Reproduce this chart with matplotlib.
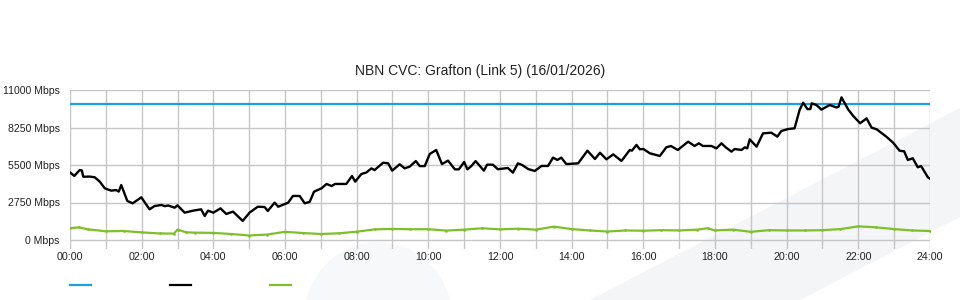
import matplotlib
matplotlib.use("Agg")
import matplotlib.pyplot as plt
from matplotlib.patches import Polygon, Ellipse
from matplotlib.lines import Line2D
from matplotlib.ticker import MultipleLocator, FuncFormatter

plt.rcParams['font.family'] = ['Liberation Sans', 'DejaVu Sans']

title = "NBN CVC: Grafton (Link 5) (16/01/2026)"

# Capacity line (Mbps)
cap_hours = [0, 24]
cap_values = [10000, 10000]

# Traffic (black) - hours, Mbps
traffic_hours = [0.0, 0.12, 0.27, 0.33, 0.37, 0.55, 0.69, 0.83, 0.97, 1.15, 1.29, 1.36, 1.43, 1.60, 1.75, 1.99,
                 2.22, 2.36, 2.55, 2.65, 2.74, 2.92, 3.00, 3.20, 3.43, 3.66, 3.76, 3.85, 4.00, 4.20, 4.36, 4.55,
                 4.70, 4.82, 5.01, 5.24, 5.43, 5.52, 5.71, 5.81, 6.09, 6.22, 6.41, 6.55, 6.69, 6.81, 7.02, 7.16,
                 7.30, 7.40, 7.71, 7.87, 7.96, 8.13, 8.27, 8.41, 8.50, 8.74, 8.88, 8.99, 9.20, 9.34, 9.48, 9.65,
                 9.76, 9.90, 10.04, 10.22, 10.38, 10.55, 10.74, 10.85, 11.00, 11.09, 11.20, 11.32, 11.55, 11.64,
                 11.80, 11.94, 12.22, 12.36, 12.50, 12.62, 12.78, 12.97, 13.16, 13.34, 13.48, 13.60, 13.71, 13.85,
                 14.18, 14.44, 14.65, 14.79, 14.97, 15.16, 15.39, 15.62, 15.68, 15.81, 15.90, 16.00, 16.18, 16.46,
                 16.64, 16.77, 16.96, 17.25, 17.43, 17.55, 17.66, 17.90, 18.04, 18.18, 18.30, 18.46, 18.55, 18.74,
                 18.83, 18.90, 18.97, 19.16, 19.34, 19.57, 19.74, 19.85, 20.04, 20.22, 20.36, 20.46, 20.58, 20.66,
                 20.70, 20.83, 20.97, 21.20, 21.39, 21.45, 21.53, 21.72, 21.86, 22.05, 22.23, 22.37, 22.51, 22.78,
                 22.97, 23.15, 23.28, 23.38, 23.52, 23.66, 23.75, 23.94, 24.00]
traffic_values = [4950, 4700, 5130, 5100, 4640, 4650, 4600, 4280, 3790, 3620, 3660, 3550, 4030, 2860, 2690, 3130,
                  2250, 2490, 2570, 2480, 2530, 2370, 2540, 2005, 2150, 2250, 1760, 2150, 2005, 2320, 1910, 2080,
                  1700, 1400, 2005, 2440, 2420, 2130, 2740, 2440, 2740, 3230, 3230, 2690, 2800, 3545, 3790, 4110,
                  3960, 4110, 4110, 4690, 4280, 4840, 4950, 5250, 5130, 5670, 5620, 5085, 5550, 5255, 5380, 5790,
                  5420, 5420, 6310, 6600, 5570, 5820, 5180, 5180, 5720, 5180, 5420, 5790, 5085, 5525,
                  5525, 5190, 5280, 4940, 5620, 5500, 5210, 5060, 5430, 5430, 6040, 5870, 6040, 5570,
                  5620, 6550, 5940, 6400, 5915, 6280, 5795, 6600, 6550, 6970, 6650, 6675, 6360, 6160,
                  6795, 6895, 6600, 7210, 6895, 7090, 6895, 6895, 6720, 7090, 6795, 6480, 6675, 6600,
                  6795, 6720, 7380, 6845, 7820, 7870, 7580, 7990, 8140, 8190, 9530, 10070, 9600, 9600,
                  10020, 9900, 9560, 9900, 9720, 9780, 10460, 9560, 9090, 8560, 8920, 8240, 8120, 7580,
                  7140, 6550, 6500, 5870, 5990, 5330, 5430, 4600, 4500]

# Green series - hours, Mbps
green_hours = [0.0, 0.25, 0.5, 1.0, 1.5, 2.0, 2.5, 2.9, 3.0, 3.25, 3.5, 4.0, 4.5, 5.0, 5.5, 6.0, 6.5, 7.0, 7.5,
               8.0, 8.5, 9.0, 9.5, 10.0, 10.5, 11.0, 11.5, 12.0, 12.5, 13.0, 13.5, 14.0, 14.5, 15.0, 15.5,
               16.0, 16.5, 17.0, 17.5, 17.8, 18.0, 18.5, 19.0, 19.5, 20.0, 20.5, 21.0, 21.5, 22.0, 22.5,
               23.0, 23.5, 24.0]
green_values = [860, 930, 780, 640, 660, 560, 480, 470, 760, 560, 540, 520, 440, 330, 400, 600, 510, 440, 490,
                610, 780, 810, 790, 790, 690, 760, 860, 780, 830, 760, 980, 800, 700, 620, 700,
                680, 720, 700, 760, 860, 700, 760, 600, 720, 700, 700, 720, 800, 1000, 930,
                800, 700, 660]

y_ticks = [0, 2750, 5500, 8250, 11000]

fig = plt.figure(figsize=(9.6, 3.0), dpi=100)
fig.patch.set_facecolor('white')

# Background watermark shapes (pixel -> inch coords)
def px(x, y):
    return (x / 100.0, (300 - y) / 100.0)

wm = '#f4f5f7'
fig.add_artist(Polygon([px(590, 300), px(960, 108), px(960, 217), px(800, 300)],
                       closed=True, transform=fig.dpi_scale_trans, facecolor=wm, edgecolor='none', zorder=0))
fig.add_artist(Ellipse(px(378, 322), 1.5, 1.6, transform=fig.dpi_scale_trans,
                       facecolor='#f7f8f9', edgecolor='none', zorder=0))

ax = fig.add_axes([70 / 960, 1 - 249 / 300, 860 / 960, 159 / 300])
ax.set_facecolor('none')
ax.set_zorder(1)

ax.set_xlim(0, 24)
ax.set_ylim(-660, 11000)

ax.xaxis.set_major_locator(MultipleLocator(2))
ax.xaxis.set_minor_locator(MultipleLocator(1))
ax.xaxis.set_major_formatter(FuncFormatter(lambda v, p: f"{int(round(v)):02d}:00"))
ax.set_yticks(y_ticks)
ax.set_yticklabels([f"{v} Mbps" for v in y_ticks])

for s in ax.spines.values():
    s.set_visible(False)

gc = '#c6c6c6'
for h in range(0, 25):
    ax.axvline(h, color=gc, lw=1.0, zorder=1)
for v in y_ticks:
    ax.axhline(v, color=gc, lw=1.0, zorder=1)

ax.tick_params(axis='both', which='both', length=0, labelsize=7.6, colors='#222222')
ax.tick_params(axis='x', labelsize=7.7)
ax.tick_params(axis='y', pad=7.3)
ax.tick_params(axis='x', pad=2)

blue = '#1ba1e2'
green = '#7fbf2a'
ax.plot(cap_hours, cap_values, color=blue, lw=1.6, zorder=3)
ax.plot(green_hours, green_values, color=green, lw=1.6, marker='.', markersize=1.8, zorder=3)
ax.plot(traffic_hours, traffic_values, color='black', lw=1.7, zorder=4)

fig.text(0.5, 1 - 71 / 300, title, ha='center', va='center', fontsize=10, color='#222222')

# Legend swatches (no labels)
for x0, c in [(70, blue), (170, 'black'), (270, green)]:
    fig.add_artist(Line2D([x0 / 960, (x0 + 21) / 960], [1 - 285 / 300] * 2, color=c, lw=1.6,
                          transform=fig.transFigure))

fig.savefig('out.png', dpi=100)
